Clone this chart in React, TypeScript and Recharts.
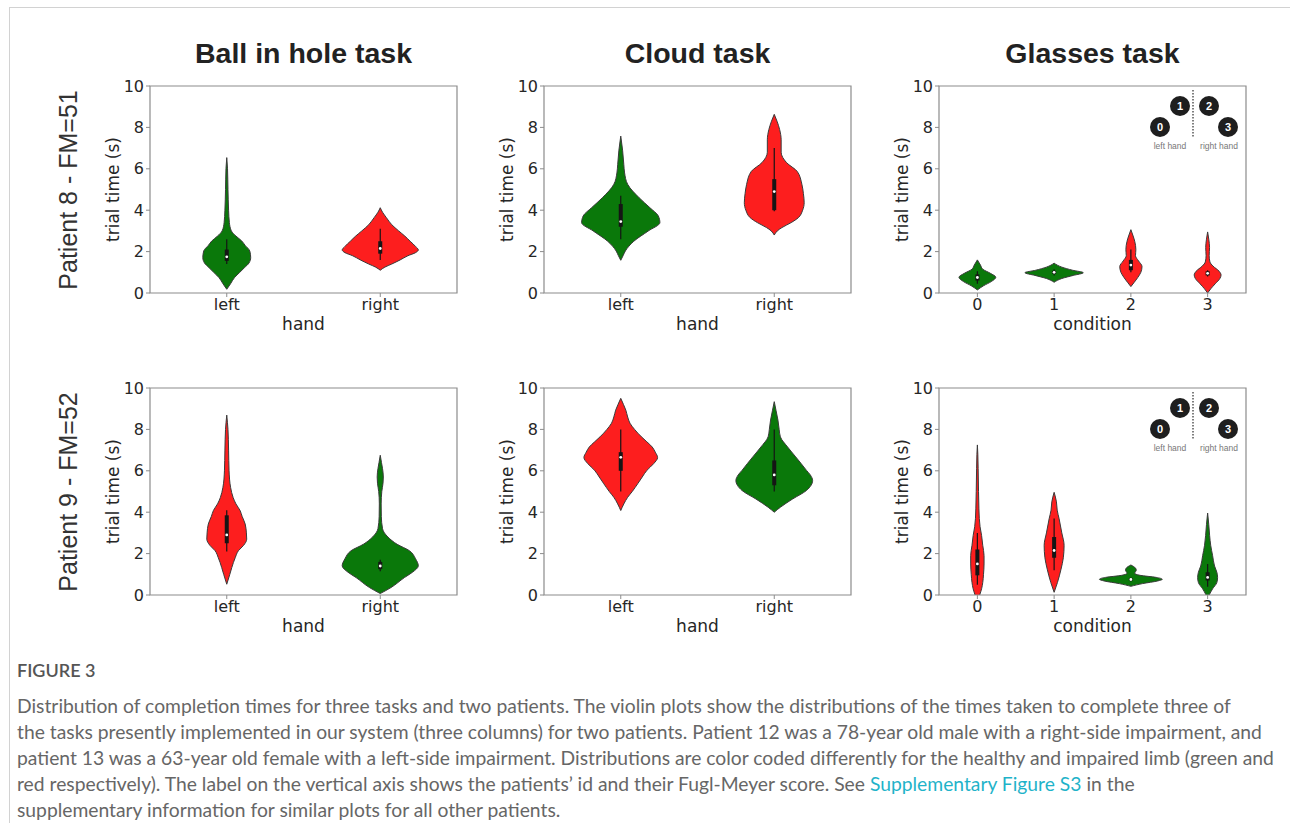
import React from 'react'
import {
  ComposedChart,
  Area,
  XAxis,
  YAxis,
  ReferenceArea,
  ReferenceLine,
  ReferenceDot,
  Label,
} from 'recharts'

const GREEN = '#0a780a'
const RED = '#fd1e1e'
const FRAME = '#8c8c8c'
const INK = '#262626'

const handCats = ['left', 'right']
const condCats = ['0', '1', '2', '3']
const yTicks = [0, 2, 4, 6, 8, 10]

// violin outlines: [trial time (s), half width in category units]
// inner boxes: [whisker low, q1, median, q3, whisker high]

// Patient 8 - ball in hole
const p8BallLeft = [[0.18, 0], [0.45, 0.025], [0.74, 0.05], [1.0, 0.085], [1.22, 0.115], [1.45, 0.145], [1.71, 0.156], [2.03, 0.15], [2.3, 0.12], [2.51, 0.098], [2.75, 0.06], [3.0, 0.03], [3.4, 0.017], [4.0, 0.012], [5.0, 0.008], [6.0, 0.005], [6.54, 0]]
const p8BallLeftBox = [1.4, 1.55, 1.75, 2.1, 2.6]
const p8BallRight = [[1.1, 0], [1.25, 0.03], [1.4, 0.075], [1.6, 0.13], [1.8, 0.18], [1.95, 0.23], [2.08, 0.248], [2.25, 0.23], [2.5, 0.195], [2.75, 0.16], [3.0, 0.12], [3.3, 0.075], [3.64, 0.04], [3.9, 0.015], [4.12, 0]]
const p8BallRightBox = [1.6, 1.9, 2.15, 2.5, 3.1]

// Patient 8 - cloud
const p8CloudLeft = [[1.58, 0], [1.8, 0.015], [2.03, 0.03], [2.5, 0.085], [3.0, 0.18], [3.4, 0.255], [3.72, 0.245], [4.12, 0.19], [4.6, 0.12], [5.25, 0.045], [5.8, 0.025], [6.2, 0.02], [6.9, 0.012], [7.58, 0]]
const p8CloudLeftBox = [2.6, 3.2, 3.45, 4.3, 4.7]
const p8CloudRight = [[2.8, 0], [3.0, 0.02], [3.16, 0.05], [3.4, 0.11], [3.64, 0.157], [4.0, 0.185], [4.36, 0.195], [4.8, 0.19], [5.25, 0.18], [5.87, 0.15], [6.3, 0.08], [6.8, 0.045], [7.4, 0.045], [7.9, 0.035], [8.3, 0.018], [8.63, 0]]
const p8CloudRightBox = [3.95, 4.0, 4.9, 5.5, 7.0]

// Patient 8 - glasses
const p8Glass0 = [[0.15, 0], [0.35, 0.08], [0.55, 0.18], [0.76, 0.24], [0.95, 0.17], [1.15, 0.07], [1.35, 0.04], [1.6, 0]]
const p8Glass0Box = [0.45, 0.6, 0.75, 0.9, 1.05]
const p8Glass1 = [[0.52, 0], [0.7, 0.1], [0.85, 0.25], [0.98, 0.38], [1.1, 0.24], [1.25, 0.1], [1.44, 0]]
const p8Glass1Box = [0.85, 0.93, 1.0, 1.07, 1.15]
const p8Glass2 = [[0.31, 0], [0.5, 0.04], [0.75, 0.09], [1.0, 0.13], [1.28, 0.145], [1.55, 0.1], [1.8, 0.06], [2.1, 0.065], [2.5, 0.05], [2.8, 0.025], [3.06, 0]]
const p8Glass2Box = [1.0, 1.1, 1.35, 1.6, 2.1]
const p8Glass3 = [[0.0, 0], [0.2, 0.04], [0.45, 0.1], [0.7, 0.16], [0.87, 0.175], [1.05, 0.15], [1.3, 0.07], [1.5, 0.03], [1.8, 0.02], [2.2, 0.025], [2.6, 0.015], [2.95, 0]]
const p8Glass3Box = [0.8, 0.85, 0.95, 1.05, 1.1]

// Patient 9 - ball in hole
const p9BallLeft = [[0.52, 0], [1.0, 0.02], [1.33, 0.033], [1.8, 0.055], [2.14, 0.076], [2.4, 0.11], [2.7, 0.13], [3.0, 0.128], [3.43, 0.12], [3.8, 0.1], [4.08, 0.087], [4.4, 0.06], [4.7, 0.042], [5.2, 0.025], [6.0, 0.015], [7.0, 0.012], [8.0, 0.008], [8.69, 0]]
const p9BallLeftBox = [2.1, 2.5, 2.9, 3.85, 4.1]
const p9BallRight = [[0.07, 0], [0.36, 0.07], [0.84, 0.157], [1.1, 0.21], [1.41, 0.248], [1.75, 0.23], [2.14, 0.19], [2.45, 0.11], [2.8, 0.05], [3.2, 0.015], [3.8, 0.007], [4.4, 0.006], [5.0, 0.01], [5.4, 0.018], [5.7, 0.02], [6.1, 0.015], [6.4, 0.008], [6.75, 0]]
const p9BallRightBox = [1.15, 1.25, 1.4, 1.6, 1.7]

// Patient 9 - cloud
const p9CloudLeft = [[4.08, 0], [4.4, 0.02], [4.72, 0.045], [5.0, 0.075], [5.37, 0.11], [5.7, 0.14], [6.02, 0.17], [6.35, 0.215], [6.64, 0.24], [6.9, 0.225], [7.15, 0.205], [7.4, 0.17], [7.64, 0.135], [8.0, 0.09], [8.3, 0.06], [8.6, 0.045], [8.93, 0.033], [9.2, 0.018], [9.5, 0]]
const p9CloudLeftBox = [5.0, 6.0, 6.65, 6.9, 8.0]
const p9CloudRight = [[4.0, 0], [4.24, 0.04], [4.64, 0.12], [5.05, 0.21], [5.3, 0.24], [5.53, 0.25], [5.8, 0.235], [6.02, 0.21], [6.35, 0.175], [6.67, 0.14], [7.15, 0.087], [7.64, 0.04], [8.0, 0.032], [8.45, 0.024], [8.9, 0.012], [9.34, 0]]
const p9CloudRightBox = [5.0, 5.3, 5.8, 6.5, 8.0]

// Patient 9 - glasses
const p9Glass0 = [[0, 0.03], [0.3, 0.055], [0.6, 0.07], [1.0, 0.08], [1.5, 0.087], [1.9, 0.087], [2.4, 0.07], [2.87, 0.055], [3.3, 0.035], [3.7, 0.025], [4.16, 0.02], [5.0, 0.015], [6.1, 0.01], [6.8, 0.006], [7.25, 0]]
const p9Glass0Box = [0.5, 0.95, 1.5, 2.2, 3.0]
const p9Glass1 = [[0.13, 0], [0.6, 0.043], [1.25, 0.09], [1.8, 0.12], [2.4, 0.13], [3.0, 0.1], [3.68, 0.065], [4.1, 0.04], [4.5, 0.03], [4.96, 0]]
const p9Glass1Box = [1.2, 1.8, 2.15, 2.8, 3.7]
const p9Glass2 = [[0.42, 0], [0.55, 0.15], [0.68, 0.35], [0.76, 0.41], [0.85, 0.33], [0.95, 0.12], [1.05, 0.05], [1.2, 0.07], [1.3, 0.06], [1.45, 0]]
const p9Glass2Box = [0.65, 0.7, 0.75, 0.8, 0.85]
const p9Glass3 = [[0, 0.02], [0.3, 0.065], [0.6, 0.12], [0.85, 0.13], [1.1, 0.12], [1.4, 0.09], [1.9, 0.065], [2.4, 0.04], [2.88, 0.026], [3.4, 0.015], [3.96, 0]]
const p9Glass3Box = [0.4, 0.7, 0.85, 1.1, 1.5]

const titles = ['Ball in hole task', 'Cloud task', 'Glasses task']
const rowLabels = ['Patient 8 - FM=51', 'Patient 9 - FM=52']

const captionLines = [
  'Distribution of completion times for three tasks and two patients. The violin plots show the distributions of the times taken to complete three of',
  'the tasks presently implemented in our system (three columns) for two patients. Patient 12 was a 78-year old male with a right-side impairment, and',
  'patient 13 was a 63-year old female with a left-side impairment. Distributions are color coded differently for the healthy and impaired limb (green and',
]

const PLOT_W = 307
const PLOT_H = 207
const colLeft = [150, 544, 939]
const rowTop = [86, 388]
const Y_AXIS_W = 50

type Violin = { profile: number[][]; box: number[]; color: string }

function buildRows(violins: Violin[]) {
  const ts = Array.from(new Set(violins.flatMap((v) => v.profile.map((p) => p[0])))).sort((a, b) => a - b)
  return ts.map((t) => {
    const row: Record<string, any> = { t }
    violins.forEach((v, i) => {
      const c = i + 0.5
      const hit = v.profile.find((p) => p[0] === t)
      row['v' + i] = hit ? [c - hit[1], c + hit[1]] : [null, null]
    })
    return row
  })
}

function HandInset() {
  const circles = [
    { label: '0', x: 14, y: 41 },
    { label: '1', x: 34, y: 20 },
    { label: '2', x: 63, y: 20 },
    { label: '3', x: 82, y: 41 },
  ]
  return (
    <svg width={100} height={70} style={{ position: 'absolute', left: Y_AXIS_W + PLOT_W - 100, top: 10 }}>
      {circles.map((c) => (
        <g key={c.label}>
          <circle cx={c.x} cy={c.y} r={10} fill="#1e1e1e" />
          <text x={c.x} y={c.y + 4} textAnchor="middle" fontSize={11} fontWeight="bold" fill="#fff" fontFamily="Liberation Sans">
            {c.label}
          </text>
        </g>
      ))}
      <line x1={47} y1={4} x2={47} y2={52} stroke="#555" strokeWidth={1.5} strokeDasharray="1.5 1.5" />
      <text x={24} y={63} textAnchor="middle" fontSize={8.5} fill="#777" fontFamily="Liberation Sans">left hand</text>
      <text x={73} y={63} textAnchor="middle" fontSize={8.5} fill="#777" fontFamily="Liberation Sans">right hand</text>
    </svg>
  )
}

interface ViolinPanelProps {
  left: number
  top: number
  cats: string[]
  xLabel: string
  violins: Violin[]
  inset?: boolean
}

function ViolinPanel({ left, top, cats, xLabel, violins, inset }: ViolinPanelProps) {
  const rows = buildRows(violins)
  const n = cats.length
  const tickStyle = { fontSize: 16, fill: INK, fontFamily: 'DejaVu Sans' }
  return (
    <div style={{ position: 'absolute', left: left - Y_AXIS_W, top: top - 10 }}>
      <ComposedChart
        layout="vertical"
        width={Y_AXIS_W + PLOT_W + 10}
        height={10 + PLOT_H + 45}
        data={rows}
        margin={{ top: 10, right: 10, bottom: 0, left: 0 }}
      >
        <XAxis
          type="number"
          domain={[0, n]}
          ticks={cats.map((_, i) => i + 0.5)}
          tickFormatter={(v: number) => cats[Math.round(v - 0.5)]}
          interval={0}
          axisLine={false}
          tickSize={4}
          tickLine={{ stroke: FRAME }}
          tick={tickStyle}
          height={45}
          allowDataOverflow
        >
          <Label value={xLabel} position="insideBottom" offset={8} fontSize={17} fill={INK} fontFamily="DejaVu Sans" />
        </XAxis>
        <YAxis
          type="number"
          dataKey="t"
          domain={[0, 10]}
          ticks={yTicks}
          interval={0}
          reversed
          width={Y_AXIS_W}
          axisLine={false}
          tickSize={4}
          tickLine={{ stroke: FRAME }}
          tick={tickStyle}
          allowDataOverflow
        >
          <Label
            value="trial time (s)"
            angle={-90}
            position="insideLeft"
            offset={13}
            fontSize={17}
            fill={INK}
            fontFamily="DejaVu Sans"
            style={{ textAnchor: 'middle' }}
          />
        </YAxis>
        {violins.map((v, i) => (
          <Area
            key={'a' + i}
            dataKey={'v' + i}
            type="monotone"
            fill={v.color}
            fillOpacity={1}
            stroke="#3a3a3a"
            strokeWidth={1}
            connectNulls
            dot={false}
            activeDot={false}
            isAnimationActive={false}
          />
        ))}
        {violins.map((v, i) => (
          <ReferenceLine
            key={'w' + i}
            segment={[{ x: i + 0.5, y: v.box[0] }, { x: i + 0.5, y: v.box[4] }]}
            stroke="#151515"
            strokeWidth={1.2}
          />
        ))}
        {violins.map((v, i) => (
          <ReferenceLine
            key={'b' + i}
            segment={[{ x: i + 0.5, y: v.box[1] }, { x: i + 0.5, y: v.box[3] }]}
            stroke="#151515"
            strokeWidth={4}
          />
        ))}
        {violins.map((v, i) => (
          <ReferenceDot key={'m' + i} x={i + 0.5} y={v.box[2]} r={1.4} fill="#fff" stroke="none" />
        ))}
        <ReferenceArea x1={0} x2={n} y1={0} y2={10} fill="none" stroke={FRAME} strokeWidth={1.2} ifOverflow="visible" />
      </ComposedChart>
      {inset && <HandInset />}
    </div>
  )
}

const panelDefs = [
  { row: 0, col: 0, cats: handCats, xLabel: 'hand', violins: [
    { profile: p8BallLeft, box: p8BallLeftBox, color: GREEN },
    { profile: p8BallRight, box: p8BallRightBox, color: RED },
  ] },
  { row: 0, col: 1, cats: handCats, xLabel: 'hand', violins: [
    { profile: p8CloudLeft, box: p8CloudLeftBox, color: GREEN },
    { profile: p8CloudRight, box: p8CloudRightBox, color: RED },
  ] },
  { row: 0, col: 2, cats: condCats, xLabel: 'condition', violins: [
    { profile: p8Glass0, box: p8Glass0Box, color: GREEN },
    { profile: p8Glass1, box: p8Glass1Box, color: GREEN },
    { profile: p8Glass2, box: p8Glass2Box, color: RED },
    { profile: p8Glass3, box: p8Glass3Box, color: RED },
  ] },
  { row: 1, col: 0, cats: handCats, xLabel: 'hand', violins: [
    { profile: p9BallLeft, box: p9BallLeftBox, color: RED },
    { profile: p9BallRight, box: p9BallRightBox, color: GREEN },
  ] },
  { row: 1, col: 1, cats: handCats, xLabel: 'hand', violins: [
    { profile: p9CloudLeft, box: p9CloudLeftBox, color: RED },
    { profile: p9CloudRight, box: p9CloudRightBox, color: GREEN },
  ] },
  { row: 1, col: 2, cats: condCats, xLabel: 'condition', violins: [
    { profile: p9Glass0, box: p9Glass0Box, color: RED },
    { profile: p9Glass1, box: p9Glass1Box, color: RED },
    { profile: p9Glass2, box: p9Glass2Box, color: GREEN },
    { profile: p9Glass3, box: p9Glass3Box, color: GREEN },
  ] },
]

export default function App() {
  const captionStyle: React.CSSProperties = {
    position: 'absolute',
    left: 17,
    whiteSpace: 'nowrap',
    fontFamily: 'Lato, "Open Sans", sans-serif',
    fontSize: 19.3,
    lineHeight: '26px',
    color: '#666',
  }
  return (
    <div style={{ position: 'absolute', left: 0, top: 0, width: 1290, height: 823, background: '#fff', overflow: 'hidden' }}>
      <div style={{ position: 'absolute', left: 9, top: 7, right: 0, bottom: 0, borderTop: '1px solid #d2d2d2', borderLeft: '1px solid #d2d2d2' }} />

      {titles.map((t, i) => (
        <div
          key={t}
          style={{
            position: 'absolute',
            left: colLeft[i] + PLOT_W / 2 - 200,
            width: 400,
            top: 35,
            lineHeight: '36px',
            textAlign: 'center',
            fontFamily: '"Liberation Sans", Arial, sans-serif',
            fontWeight: 'bold',
            fontSize: 28.5,
            color: '#222',
          }}
        >
          {t}
        </div>
      ))}

      {rowLabels.map((t, i) => (
        <div
          key={t}
          style={{
            position: 'absolute',
            left: 68 - 150,
            top: rowTop[i] + PLOT_H / 2 - 15,
            width: 300,
            height: 30,
            lineHeight: '30px',
            textAlign: 'center',
            transform: 'rotate(-90deg)',
            fontFamily: '"Liberation Sans", Arial, sans-serif',
            fontSize: 25,
            color: '#333',
          }}
        >
          {t}
        </div>
      ))}

      {panelDefs.map((p, i) => (
        <ViolinPanel
          key={i}
          left={colLeft[p.col]}
          top={rowTop[p.row]}
          cats={p.cats}
          xLabel={p.xLabel}
          violins={p.violins}
          inset={p.col === 2}
        />
      ))}

      <div style={{ ...captionStyle, top: 657, fontSize: 18, fontWeight: 600, color: '#555' }}>FIGURE 3</div>
      {captionLines.map((line, i) => (
        <div key={i} style={{ ...captionStyle, top: 693 + i * 26 }}>
          {line}
        </div>
      ))}
      <div style={{ ...captionStyle, top: 693 + 3 * 26 }}>
        red respectively). The label on the vertical axis shows the patients’ id and their Fugl-Meyer score. See{' '}
        <span style={{ color: '#1fb3c9' }}>Supplementary Figure S3</span> in the
      </div>
      <div style={{ ...captionStyle, top: 693 + 4 * 26 }}>
        supplementary information for similar plots for all other patients.
      </div>
    </div>
  )
}
